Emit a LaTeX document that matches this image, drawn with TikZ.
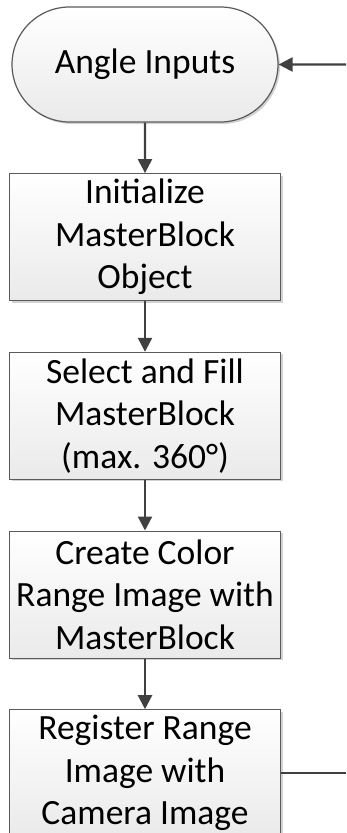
\documentclass[tikz,border=0pt]{standalone}
\usepackage{fontspec}
\setmainfont{Carlito}
\usepackage{tikz}
\usetikzlibrary{arrows.meta,positioning,shapes.misc,shadows}
\tikzset{
  >=Stealth,
  every node/.append style={font=\fontsize{35.5}{42.5}\selectfont},
}

\begin{document}
\begin{tikzpicture}[
    node distance=50.5pt,
    block/.style={
        rectangle,
        draw=edgegray,
        line width=1.2pt,
        top color=white,
        bottom color=fillgray,
        minimum width=271pt,
        minimum height=127pt,
        align=center,
        inner sep=0pt,
        drop shadow={shadow xshift=2pt, shadow yshift=-2pt, fill=black!35, opacity=0.5}
    },
    startstop/.style={
        block,
        rounded rectangle,
        minimum width=266pt,
        minimum height=115pt
    },
    arrow/.style={
        -{Triangle[length=14pt,width=14pt]},
        line width=2.2pt,
        draw=arrowgray
    },
    link/.style={
        line width=2.2pt,
        draw=arrowgray
    }
]
% Color definitions
\definecolor{edgegray}{RGB}{90,90,90}
\definecolor{fillgray}{RGB}{234,234,234}
\definecolor{arrowgray}{RGB}{64,64,64}

\useasboundingbox (0,0) rectangle (346pt,-833pt);

% Flow stages
\node[startstop] (ang) at (145pt,-64.5pt) {Angle Inputs};
\node[block, below=of ang] (init) {Initialize\\MasterBlock\\Object};
\node[block, below=of init] (fill) {Select and Fill\\MasterBlock\\(max. 360°)};
\node[block, below=of fill] (col) {Create Color\\Range Image with\\MasterBlock};
\node[block, below=of col] (reg) {Register Range\\Image with\\Camera Image};

% Loop ends
\coordinate (loopin) at (346pt,-64.5pt);
\coordinate (loopout) at (346pt,-769.5pt);

% Flow arrows
\draw[arrow] (loopin) -- (ang);
\draw[arrow] (ang) -- (init);
\draw[arrow] (init) -- (fill);
\draw[arrow] (fill) -- (col);
\draw[arrow] (col) -- (reg);
\draw[link] (reg.east) -- (reg.east -| loopout);
\end{tikzpicture}
\end{document}
